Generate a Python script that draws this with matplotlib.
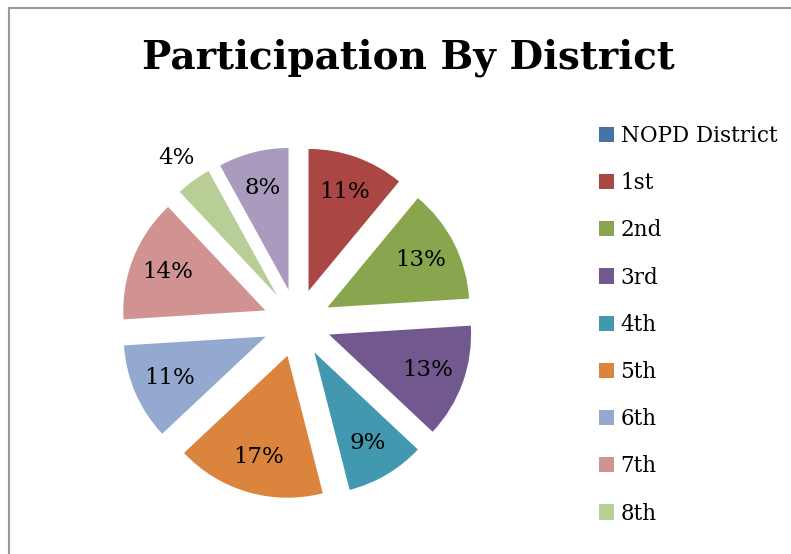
import matplotlib
matplotlib.use("Agg")
import matplotlib.pyplot as plt
from matplotlib.patches import Patch
import numpy as np

# data
districts = ["NOPD District", "1st", "2nd", "3rd", "4th", "5th", "6th", "7th", "8th", "9th"]
shares = [0, 11, 13, 13, 9, 17, 11, 14, 4, 8]
colors = ["#4572A7", "#AA4643", "#89A54E", "#71588F", "#4198AF",
          "#DB843D", "#93A9CF", "#D19392", "#B9CD96", "#A99BBD"]
n_legend = 9  # the last entry does not fit in the original legend

W, H = 791, 554
fig = plt.figure(figsize=(W / 100, H / 100), dpi=100)
ax = fig.add_axes([0, 0, 1, 1])

serif = "DejaVu Serif"
cx, cy, r = 297, H - 323, 142
explode_frac = 0.24  # pie() takes explode in data units, so scale by r

def fmt(p):
    return "" if p < 0.5 else f"{p:.0f}%"

wedges, texts, autotexts = ax.pie(
    shares, colors=colors, startangle=90, counterclock=False,
    explode=[explode_frac * r] * len(shares), center=(cx, cy), radius=r,
    autopct=fmt, pctdistance=0.74,
    textprops=dict(fontfamily=serif, fontsize=16.5, color="black"),
    wedgeprops=dict(linewidth=0))

# the small 4% slice gets its label outside the wedge
small = districts.index("8th")
w = wedges[small]
ang = np.deg2rad((w.theta1 + w.theta2) / 2)
d = r * (1.2 + explode_frac)
autotexts[small].set_position((cx + d * np.cos(ang), cy + d * np.sin(ang)))

ax.set_xlim(0, W)
ax.set_ylim(0, H)
ax.set_aspect("equal")
ax.axis("off")

fig.text(408 / W, 1 - 58 / H, "Participation By District", ha="center", va="center",
         fontfamily=serif, fontsize=28, fontweight="bold")

handles = [Patch(facecolor=c, edgecolor="none") for c in colors[:n_legend]]
fig.legend(handles, districts[:n_legend], loc="upper left",
           bbox_to_anchor=(599 / W, 1 - 125 / H), frameon=False,
           prop=dict(family=serif, size=15.5), handlelength=0.7, handleheight=0.7,
           handletextpad=0.3, labelspacing=1.17, borderpad=0, borderaxespad=0)

# chart area border (only top and left edges are visible)
fig.add_artist(plt.Line2D([9 / W, 1], [1 - 7.5 / H, 1 - 7.5 / H], color="#999999", lw=1.5))
fig.add_artist(plt.Line2D([9 / W, 9 / W], [0, 1 - 7.5 / H], color="#999999", lw=1.5))

fig.savefig("out.png", dpi=100)
